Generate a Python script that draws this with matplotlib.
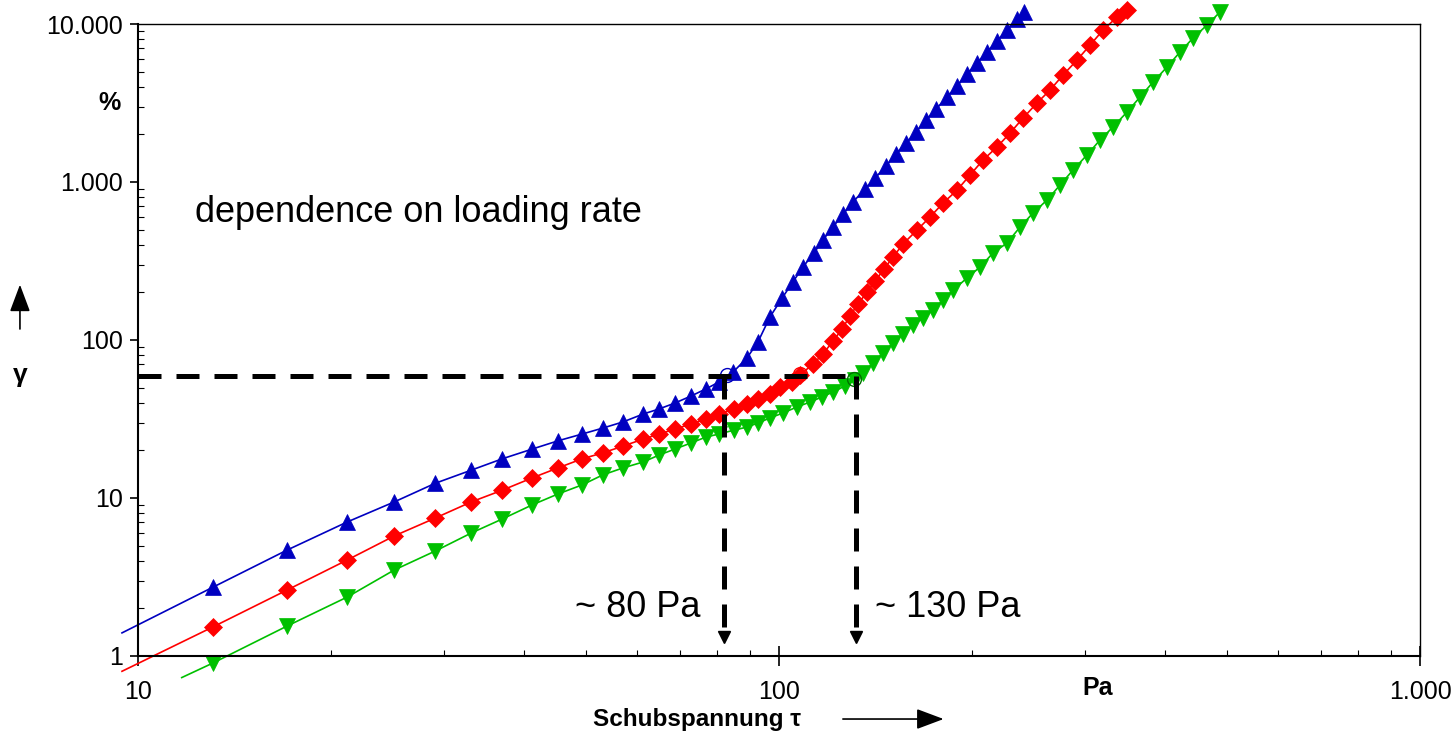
#!/usr/bin/env python

import numpy as np
import matplotlib
matplotlib.use( 'Agg' )
import matplotlib.pyplot as plt
from matplotlib import ticker as mticker

plt.rcParams['font.family'] = [ 'Liberation Sans', 'DejaVu Sans' ]

figName = 'out.png'

# shear stress tau [Pa] and strain gamma [%]
tau_blue = [ 13.1, 17.1, 21.2, 25.1, 29.1, 33.1, 37.0, 41.2, 45.2, 49.3,
             53.1, 57.1, 61.4, 65.0, 68.8, 72.9, 76.9, 80.6, 84.8, 89.1,
             92.7, 96.8, 101.1, 105.1, 109.0, 113.4, 117.1, 121.4, 125.9, 130.4,
             136.2, 141.2, 146.9, 152.2, 157.8, 163.6, 169.6, 175.8, 182.9, 189.6,
             196.5, 203.7, 211.2, 218.8, 226.8, 235.1, 241.0 ]
gam_blue = [ 2.73, 4.69, 7.05, 9.44, 12.4, 15.0, 17.7, 20.4, 23.0, 25.4,
             27.7, 30.3, 34.0, 36.6, 39.9, 44.2, 49.0, 54.2, 62.7, 76.9,
             97.1, 140, 184, 233, 290, 356, 430, 519, 627, 747,
             903, 1059, 1262, 1504, 1766, 2072, 2467, 2897, 3451, 4052,
             4826, 5666, 6653, 7805, 9160, 10760, 11900 ]

tau_red = [ 13.1, 17.1, 21.2, 25.1, 29.1, 33.1, 37.0, 41.2, 45.2, 49.3,
            53.1, 57.1, 61.4, 65.0, 68.8, 72.9, 76.9, 80.6, 85.1, 89.1,
            92.7, 96.8, 100.4, 104.8, 107.8, 113.0, 117.1, 121.4, 125.4, 129.0,
            132.8, 137.2, 141.2, 145.8, 150.6, 156.1, 164.2, 172.0, 180.3, 189.6,
            198.6, 208.1, 218.8, 229.3, 240.3, 252.6, 264.7, 277.4, 291.7, 305.7,
            320.3, 336.8, 349.2 ]
gam_red = [ 1.53, 2.62, 4.05, 5.75, 7.47, 9.44, 11.2, 13.4, 15.5, 17.7,
            19.3, 21.3, 23.6, 25.4, 27.3, 29.4, 31.6, 34.0, 36.6, 39.4,
            42.3, 45.5, 50.4, 54.2, 60.0, 70.5, 81.5, 98.6, 117, 142,
            169, 201, 236, 281, 335, 405, 497, 600, 736, 889,
            1107, 1378, 1665, 2042, 2541, 3162, 3820, 4755, 5916, 7362,
            9160, 11070, 12270 ]

tau_green = [ 13.1, 17.1, 21.2, 25.1, 29.1, 33.1, 37.0, 41.2, 45.2, 49.3,
              53.1, 57.1, 61.4, 65.0, 68.8, 72.9, 76.9, 80.6, 85.1, 89.1,
              92.7, 96.8, 101.4, 106.7, 111.8, 116.7, 121.4, 126.8, 131.4, 135.2,
              140.2, 145.3, 150.6, 156.1, 161.8, 167.7, 173.9, 180.3, 186.9, 196.5,
              205.9, 215.8, 226.8, 237.7, 249.1, 261.9, 274.4, 287.5, 302.3, 316.8,
              331.9, 349.1, 365.8, 383.3, 403.0, 422.3, 442.5, 465.3, 487.5 ]
gam_green = [ 0.904, 1.55, 2.36, 3.50, 4.62, 6.00, 7.36, 9.04, 10.6, 12.1,
              14.0, 15.5, 16.9, 18.7, 20.4, 22.3, 24.3, 25.4, 26.9, 28.1,
              29.8, 32.1, 34.5, 37.7, 40.5, 43.6, 46.9, 51.2, 55.8, 61.8,
              71.5, 82.8, 95.7, 109, 124, 138, 155, 179, 207, 247,
              290, 356, 411, 519, 637, 769, 957, 1191, 1483, 1845,
              2230, 2774, 3451, 4295, 5344, 6653, 8153, 9855, 11910 ]

# start of the fitted curves (left of / below the frame)
start_blue  = ( 9.44, 1.40 )
start_red   = ( 9.44, 0.80 )
start_green = ( 11.7, 0.73 )

# yield points (open circles)
yield_tau = [ 83.0, 107.8, 131.0 ]
yield_gam = [ 60.0, 60.6, 57.0 ]

# dashed guide lines
gam_yield   = 59.2
tau_guides  = [ 82.2, 132.0 ]
gam_arrow   = 1.32
gam_dashend = 1.50

xticks = [ 10, 100, 1000 ]
xticklabels = [ '10', '100', '1.000' ]
yticks = [ 1, 10, 100, 1000, 10000 ]
yticklabels = [ '1', '10', '100', '1.000', '10.000' ]

blue  = '#0000C0'
red   = '#FF0000'
green = '#00C000'

fig = plt.figure( figsize = ( 14.56, 7.34 ), dpi = 100 )
ax = fig.add_axes( [ 0.0948, 0.1063, 0.8805, 0.8610 ] )

series = [ ( tau_blue , gam_blue , start_blue , blue , '^', 11.5 ),
           ( tau_red  , gam_red  , start_red  , red  , 'D', 9.0 ),
           ( tau_green, gam_green, start_green, green, 'v', 11.5 ) ]

for tau, gam, st, c, m, ms in series:
    ax.plot( [ st[0] ] + tau, [ st[1] ] + gam, '-', c = c, lw = 1.2, clip_on = False )
    ax.plot( tau, gam, ls = 'none', marker = m, ms = ms, mfc = c, mec = c,
             mew = 0.5, clip_on = False )

ycol = [ blue, red, '#007000' ]
for i in range( len( yield_tau ) ):
    ax.plot( yield_tau[i], yield_gam[i], 'o', ms = 10, mfc = 'none',
             mec = ycol[i], mew = 1.0, zorder = 5 )

# dashed guides
ax.plot( [ 10.0, tau_guides[1] ], [ gam_yield, gam_yield ], c = 'k', lw = 3.6,
         dashes = ( 4.6, 3.0 ), zorder = 6 )
for tg in tau_guides:
    ax.plot( [ tg, tg ], [ gam_yield, gam_dashend ], c = 'k', lw = 3.6,
             dashes = ( 4.6, 3.0 ), zorder = 6 )
    ax.plot( tg, gam_arrow, 'v', c = 'k', ms = 8, zorder = 6 )

ax.text( 12.27, 637, 'dependence on loading rate', fontsize = 26,
         ha = 'left', va = 'center' )
ax.text( 75.4, 2.04, '~ 80 Pa', fontsize = 26, ha = 'right', va = 'center' )
ax.text( 141.2, 2.04, '~ 130 Pa', fontsize = 26, ha = 'left', va = 'center' )

ax.set_xscale( 'log' )
ax.set_yscale( 'log' )
ax.set_xlim( 10, 1000 )
ax.set_ylim( 1, 10000 )

ax.set_xticks( xticks )
ax.set_xticklabels( xticklabels )
ax.set_yticks( yticks )
ax.set_yticklabels( yticklabels )
ax.xaxis.set_minor_locator( mticker.LogLocator( base = 10, subs = np.arange( 2, 10 ), numticks = 99 ) )
ax.yaxis.set_minor_locator( mticker.LogLocator( base = 10, subs = np.arange( 2, 10 ), numticks = 99 ) )
ax.xaxis.set_minor_formatter( mticker.NullFormatter() )
ax.yaxis.set_minor_formatter( mticker.NullFormatter() )

ax.tick_params( axis = 'y', which = 'major', direction = 'out', length = 6,
                width = 1.2, pad = 5, labelsize = 18 )
ax.tick_params( axis = 'y', which = 'minor', direction = 'in', length = 4, width = 0.8 )
ax.tick_params( axis = 'x', which = 'major', direction = 'inout', length = 14,
                width = 1.2, pad = 10, labelsize = 18 )
ax.tick_params( axis = 'x', which = 'minor', direction = 'in', length = 4, width = 0.8 )

for side in [ 'left', 'bottom' ]:
    ax.spines[side].set_linewidth( 1.5 )
for side in [ 'top', 'right' ]:
    ax.spines[side].set_linewidth( 1.0 )

# axis annotations
fig.text( 0.0755, 0.860, '%', fontsize = 18, fontweight = 'bold', ha = 'center', va = 'center' )
fig.text( 0.754, 0.0627, 'Pa', fontsize = 18, fontweight = 'bold', ha = 'center', va = 'center' )
fig.text( 0.0137, 0.489, 'γ', fontsize = 19, fontweight = 'bold', ha = 'center', va = 'center' )
fig.text( 0.479, 0.0204, 'Schubspannung τ', fontsize = 17.5, fontweight = 'bold',
          ha = 'center', va = 'center' )
fig.add_artist( matplotlib.patches.FancyArrowPatch( ( 0.0137, 0.548 ), ( 0.0137, 0.616 ),
                transform = fig.transFigure, arrowstyle = '-|>,head_length=1.2,head_width=0.45',
                mutation_scale = 14, color = 'k', lw = 1.2 ) )
fig.add_artist( matplotlib.patches.FancyArrowPatch( ( 0.577, 0.0204 ), ( 0.650, 0.0204 ),
                transform = fig.transFigure, arrowstyle = '-|>,head_length=1.2,head_width=0.45',
                mutation_scale = 14, color = 'k', lw = 1.2 ) )

plt.savefig( figName, dpi = 100 )
